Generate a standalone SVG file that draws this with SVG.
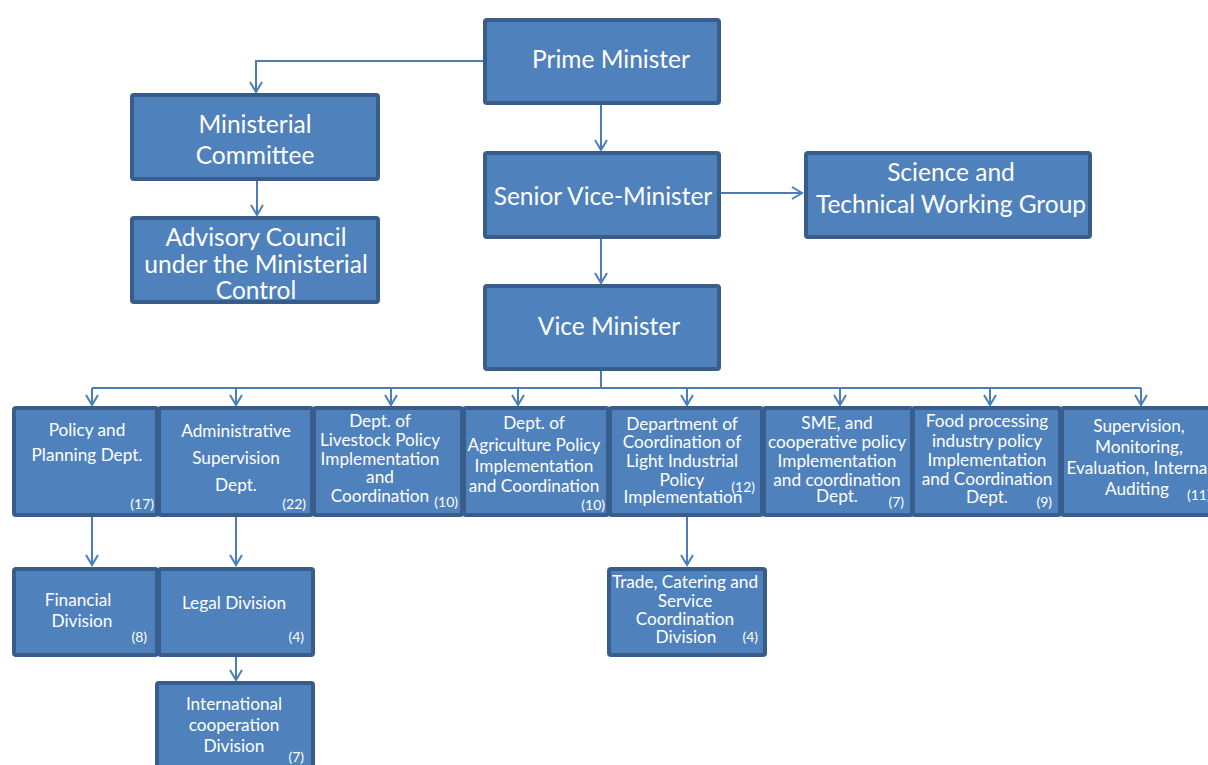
<svg xmlns="http://www.w3.org/2000/svg" width="1208" height="765" viewBox="0 0 1208 765">
<style>
.box{fill:#4f81bd;stroke:#385d8a;stroke-width:4;}
.t{fill:#ffffff;font-family:Lato,"Open Sans",sans-serif;text-anchor:middle;}
.big{font-size:24.5px;}
.md{font-size:17.2px;}
.n{fill:#ffffff;font-family:Lato,"Open Sans",sans-serif;font-size:14px;text-anchor:end;}
.c{fill:none;stroke:#4a7ebb;stroke-width:2;}
</style>
<defs>
<marker id="ah" markerUnits="userSpaceOnUse" markerWidth="14" markerHeight="14" viewBox="0 0 14 14" refX="12" refY="7" orient="auto">
<path d="M2,1 L12,7 L2,13" fill="none" stroke="#4a7ebb" stroke-width="2"/>
</marker>
</defs>
<rect width="1208" height="765" fill="#ffffff"/>
<g id="connectors">
<path class="c" d="M485,61 H256 V92" marker-end="url(#ah)"/>
<path class="c" d="M601,104 V150" marker-end="url(#ah)"/>
<path class="c" d="M257,181 V215" marker-end="url(#ah)"/>
<path class="c" d="M721,193 H802" marker-end="url(#ah)"/>
<path class="c" d="M601,239 V283" marker-end="url(#ah)"/>
<path class="c" d="M601,371 V388 M92,388 H1141"/>
<path class="c" d="M92,388 V405" marker-end="url(#ah)"/>
<path class="c" d="M236,388 V405" marker-end="url(#ah)"/>
<path class="c" d="M391,388 V405" marker-end="url(#ah)"/>
<path class="c" d="M518,388 V405" marker-end="url(#ah)"/>
<path class="c" d="M687,388 V405" marker-end="url(#ah)"/>
<path class="c" d="M840,388 V405" marker-end="url(#ah)"/>
<path class="c" d="M990,388 V405" marker-end="url(#ah)"/>
<path class="c" d="M1141,388 V405" marker-end="url(#ah)"/>
<path class="c" d="M92,490 V565" marker-end="url(#ah)"/>
<path class="c" d="M236,496 V565" marker-end="url(#ah)"/>
<path class="c" d="M236,645 V680" marker-end="url(#ah)"/>
<path class="c" d="M687,507 V565" marker-end="url(#ah)"/>
</g>
<g id="prime-minister">
<rect class="box" x="485" y="20" width="234" height="83" rx="2"/>
<text class="t big" x="611" y="68">Prime Minister</text>
</g>
<g id="ministerial-committee">
<rect class="box" x="132" y="95" width="246" height="84" rx="2"/>
<text class="t big" x="255" y="133">Ministerial</text>
<text class="t big" x="255" y="164">Committee</text>
</g>
<g id="advisory-council">
<rect class="box" x="132" y="218" width="246" height="84" rx="2"/>
<text class="t big" x="256" y="246">Advisory Council</text>
<text class="t big" x="256" y="273">under the Ministerial</text>
<text class="t big" x="256" y="299">Control</text>
</g>
<g id="senior-vice-minister">
<rect class="box" x="485" y="153" width="234" height="84" rx="2"/>
<text class="t big" x="603" y="205">Senior Vice-Minister</text>
</g>
<g id="science-technical">
<rect class="box" x="806" y="153" width="284" height="84" rx="2"/>
<text class="t big" x="951" y="181">Science and</text>
<text class="t big" x="951" y="213">Technical Working Group</text>
</g>
<g id="vice-minister">
<rect class="box" x="485" y="286" width="234" height="83" rx="2"/>
<text class="t big" x="609" y="335">Vice Minister</text>
</g>
<g id="policy-planning">
<rect class="box" x="14" y="408" width="143" height="107" rx="2"/>
<text class="t md" x="87" y="436">Policy and</text>
<text class="t md" x="87" y="461">Planning Dept.</text>
<text class="n" x="154" y="509">(17)</text>
</g>
<g id="administrative-supervision">
<rect class="box" x="159" y="408" width="153" height="107" rx="2"/>
<text class="t md" x="236" y="437">Administrative</text>
<text class="t md" x="236" y="464">Supervision</text>
<text class="t md" x="236" y="491">Dept.</text>
<text class="n" x="306" y="509">(22)</text>
</g>
<g id="livestock">
<rect class="box" x="314" y="408" width="148" height="107" rx="2"/>
<text class="t md" x="380" y="427">Dept. of</text>
<text class="t md" x="380" y="446">Livestock Policy</text>
<text class="t md" x="380" y="465">Implementation</text>
<text class="t md" x="380" y="483">and</text>
<text class="t md" x="380" y="502">Coordination</text>
<text class="n" x="458" y="507">(10)</text>
</g>
<g id="agriculture">
<rect class="box" x="464" y="408" width="144" height="107" rx="2"/>
<text class="t md" x="534" y="429">Dept. of</text>
<text class="t md" x="534" y="451">Agriculture Policy</text>
<text class="t md" x="534" y="472">Implementation</text>
<text class="t md" x="534" y="492">and Coordination</text>
<text class="n" x="605" y="510">(10)</text>
</g>
<g id="light-industrial">
<rect class="box" x="610" y="408" width="152" height="107" rx="2"/>
<text class="t md" x="682" y="430">Department of</text>
<text class="t md" x="682" y="448">Coordination of</text>
<text class="t md" x="682" y="467">Light Industrial</text>
<text class="t md" x="682" y="486">Policy</text>
<text class="t md" x="683" y="503">Implementation</text>
<text class="n" x="755" y="492">(12)</text>
</g>
<g id="sme">
<rect class="box" x="764" y="408" width="148" height="107" rx="2"/>
<text class="t md" x="837" y="429">SME, and</text>
<text class="t md" x="837" y="448">cooperative policy</text>
<text class="t md" x="837" y="467">Implementation</text>
<text class="t md" x="837" y="486">and coordination</text>
<text class="t md" x="837" y="502">Dept.</text>
<text class="n" x="904" y="507">(7)</text>
</g>
<g id="food-processing">
<rect class="box" x="913" y="408" width="147" height="107" rx="2"/>
<text class="t md" x="987" y="427">Food processing</text>
<text class="t md" x="987" y="447">industry policy</text>
<text class="t md" x="987" y="466">Implementation</text>
<text class="t md" x="987" y="485">and Coordination</text>
<text class="t md" x="987" y="503">Dept.</text>
<text class="n" x="1052" y="507">(9)</text>
</g>
<g id="supervision-monitoring">
<rect class="box" x="1062" y="408" width="160" height="107" rx="2"/>
<text class="t md" x="1139" y="432">Supervision,</text>
<text class="t md" x="1139" y="453">Monitoring,</text>
<text class="t md" x="1139" y="474">Evaluation, Internal</text>
<text class="t md" x="1137" y="495">Auditing</text>
<text class="n" x="1187" y="500" style="text-anchor:start">(11)</text>
</g>
<g id="financial-division">
<rect class="box" x="14" y="569" width="143" height="86" rx="2"/>
<text class="t md" x="78" y="606">Financial</text>
<text class="t md" x="82" y="627">Division</text>
<text class="n" x="147" y="642">(8)</text>
</g>
<g id="legal-division">
<rect class="box" x="159" y="569" width="154" height="86" rx="2"/>
<text class="t md" x="234" y="609">Legal Division</text>
<text class="n" x="304" y="642">(4)</text>
</g>
<g id="international-cooperation">
<rect class="box" x="157" y="683" width="156" height="100" rx="2"/>
<text class="t md" x="234" y="710">International</text>
<text class="t md" x="234" y="731">cooperation</text>
<text class="t md" x="234" y="752">Division</text>
<text class="n" x="304" y="762">(7)</text>
</g>
<g id="trade-catering">
<rect class="box" x="609" y="569" width="156" height="86" rx="2"/>
<text class="t md" x="685" y="588">Trade, Catering and</text>
<text class="t md" x="685" y="607">Service</text>
<text class="t md" x="685" y="625">Coordination</text>
<text class="t md" x="686" y="643">Division</text>
<text class="n" x="758" y="642">(4)</text>
</g>
</svg>
